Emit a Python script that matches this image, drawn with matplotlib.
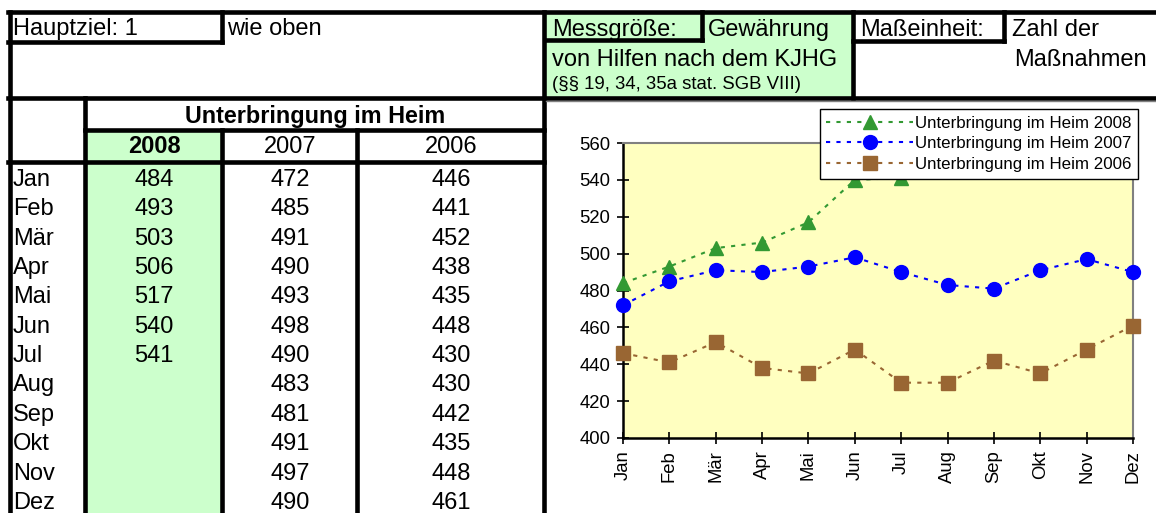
import matplotlib
matplotlib.use("Agg")
import matplotlib.pyplot as plt
from matplotlib.patches import Rectangle
from matplotlib.lines import Line2D

plt.rcParams['font.family'] = ['Liberation Sans', 'DejaVu Sans']

# Daten
monate = ['Jan', 'Feb', 'Mär', 'Apr', 'Mai', 'Jun', 'Jul', 'Aug', 'Sep', 'Okt', 'Nov', 'Dez']
jahre = ['2008', '2007', '2006']
heim_2008 = [484, 493, 503, 506, 517, 540, 541]
heim_2007 = [472, 485, 491, 490, 493, 498, 490, 483, 481, 491, 497, 490]
heim_2006 = [446, 441, 452, 438, 435, 448, 430, 430, 442, 435, 448, 461]
y_ticks = [400, 420, 440, 460, 480, 500, 520, 540, 560]

W, H = 1156, 513
fig = plt.figure(figsize=(W / 100, H / 100), dpi=100)

def fx(x):
    return x / W

def fy(y):
    return 1 - y / H

def box(x0, y0, x1, y1, color):
    fig.patches.append(Rectangle((fx(x0), fy(y1)), fx(x1) - fx(x0), fy(y0) - fy(y1),
                                 transform=fig.transFigure, facecolor=color,
                                 edgecolor='none', zorder=0))

def hline(y, x0, x1, lw=3.3, color='black'):
    fig.lines.append(Line2D([fx(x0), fx(x1)], [fy(y), fy(y)], transform=fig.transFigure,
                            color=color, lw=lw, solid_capstyle='projecting', zorder=5))

def vline(x, y0, y1, lw=3.3, color='black'):
    fig.lines.append(Line2D([fx(x), fx(x)], [fy(y0), fy(y1)], transform=fig.transFigure,
                            color=color, lw=lw, solid_capstyle='projecting', zorder=5))

def txt(x, y, s, size=17, ha='left', weight='normal'):
    fig.text(fx(x), fy(y), s, fontsize=size, ha=ha, va='baseline', fontweight=weight)

gruen = '#CCFFCC'

# grüne Flächen
box(546, 13, 852, 97, gruen)
box(86, 131, 221, 513, gruen)

# Rahmenlinien Kopf
hline(12, 8, 1156)
hline(42, 8, 222)
hline(40, 546, 702)
hline(41, 853, 1004)
hline(98, 8, 1156)
vline(10, 12, 513)
vline(222, 12, 42)
vline(544, 12, 513)
vline(702, 12, 40)
vline(853, 12, 98)
vline(1004, 12, 41)
hline(101, 546, 1156, lw=1, color='#808080')

# Rahmenlinien Tabelle
hline(130, 85, 544)
hline(162, 8, 544)
vline(85, 98, 513)
vline(222, 130, 513)
vline(357, 130, 513)

# Kopftexte
txt(13, 35, 'Hauptziel: 1')
txt(227, 35, 'wie oben')
txt(552, 36, 'Messgröße:')
txt(708, 36, 'Gewährung')
txt(552, 66, 'von Hilfen nach dem KJHG')
txt(552, 89, '(§§ 19, 34, 35a stat. SGB VIII)', size=13.4)
txt(860, 36, 'Maßeinheit:')
txt(1012, 36, 'Zahl der')
txt(1147, 66, 'Maßnahmen', ha='right')

# Tabelle
spalten_x = [154, 290, 451]
txt(315, 123, 'Unterbringung im Heim', size=16.8, ha='center', weight='bold')
for j, jahr in enumerate(jahre):
    txt(spalten_x[j], 153, jahr, ha='center', weight='bold' if j == 0 else 'normal')

werte = [heim_2008, heim_2007, heim_2006]
for i, m in enumerate(monate):
    yb = 186 + 29.35 * i
    txt(13, yb, m)
    for j, reihe in enumerate(werte):
        if i < len(reihe):
            txt(spalten_x[j], yb, str(reihe[i]), ha='center')

# Diagramm
ax = fig.add_axes([fx(623), fy(438), (1133 - 623) / W, (438 - 143) / H])
ax.set_facecolor('#FFFFC0')
x_all = list(range(len(monate)))
dash = (0, (2, 3))
ax.plot(x_all[:len(heim_2008)], heim_2008, color='#339933', ls=dash, lw=1.5,
        marker='^', ms=10.5, label='Unterbringung im Heim 2008', clip_on=False, zorder=3)
ax.plot(x_all, heim_2007, color='#0000FF', ls=dash, lw=1.5,
        marker='o', ms=10, label='Unterbringung im Heim 2007', clip_on=False, zorder=3)
ax.plot(x_all, heim_2006, color='#996633', ls=dash, lw=1.5,
        marker='s', ms=9.5, label='Unterbringung im Heim 2006', clip_on=False, zorder=3)
ax.set_xlim(0, 11)
ax.set_ylim(400, 560)
ax.set_yticks(y_ticks)
ax.set_xticks(x_all)
ax.set_xticklabels(monate, rotation=90)
ax.tick_params(axis='both', direction='inout', length=8, width=1.2, labelsize=13.3)
ax.tick_params(axis='y', pad=5)
ax.tick_params(axis='x', pad=5)
for s in ['left', 'bottom']:
    ax.spines[s].set_linewidth(1.8)
    ax.spines[s].set_color('black')
for s in ['top', 'right']:
    ax.spines[s].set_linewidth(1.5)
    ax.spines[s].set_color('#808080')

leg = ax.legend(loc='upper right', bbox_to_anchor=(fx(1138), fy(109)),
                bbox_transform=fig.transFigure, fontsize=12.2, frameon=True, fancybox=False,
                edgecolor='black', framealpha=1, borderpad=0.4, handlelength=5.1,
                handletextpad=0.12, labelspacing=0.33, borderaxespad=0)
leg.get_frame().set_linewidth(1)
leg.set_zorder(10)

fig.savefig('out.png', dpi=100)
